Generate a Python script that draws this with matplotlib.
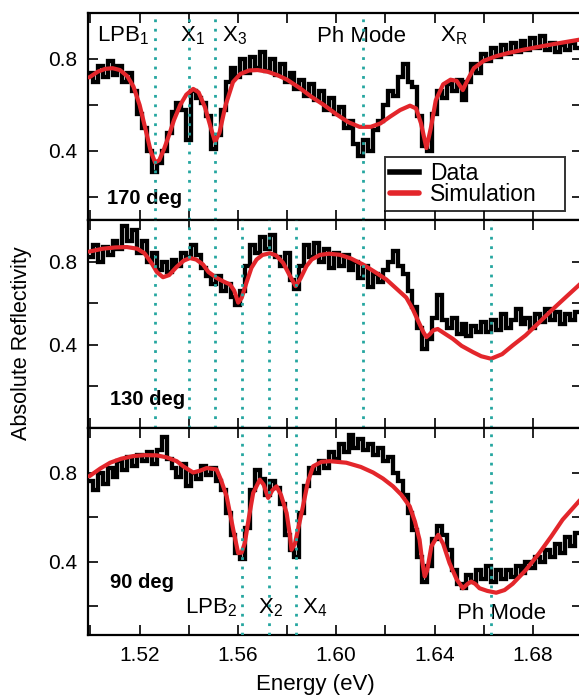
import numpy as np
import matplotlib
matplotlib.use("Agg")
import matplotlib.pyplot as plt
from matplotlib.ticker import MultipleLocator, FixedLocator, FormatStrFormatter

plt.rcParams["font.family"] = ["Liberation Sans", "DejaVu Sans"]
plt.rcParams["mathtext.fontset"] = "custom"
plt.rcParams["mathtext.rm"] = "Liberation Sans"
plt.rcParams["mathtext.it"] = "Liberation Sans:italic"

# Measured reflectivity, sampled every 2 meV from 1.500 eV
E_START, E_STEP, N_PTS = 1.500, 0.002, 100
energy = np.round(E_START + E_STEP * np.arange(N_PTS), 3)

data_170 = [
    0.74, 0.70, 0.77, 0.72, 0.79, 0.73, 0.77, 0.70, 0.74, 0.66,
    0.56, 0.50, 0.40, 0.31, 0.35, 0.40, 0.48, 0.57, 0.61, 0.58,
    0.45, 0.66, 0.63, 0.61, 0.55, 0.41, 0.47, 0.58, 0.70, 0.76,
    0.72, 0.80, 0.74, 0.81, 0.76, 0.83, 0.75, 0.80, 0.73, 0.78,
    0.70, 0.74, 0.67, 0.71, 0.64, 0.69, 0.62, 0.66, 0.58, 0.63,
    0.56, 0.59, 0.50, 0.53, 0.43, 0.38, 0.45, 0.40, 0.49, 0.53,
    0.60, 0.66, 0.64, 0.72, 0.78, 0.70, 0.68, 0.55, 0.42, 0.40,
    0.56, 0.66, 0.63, 0.69, 0.66, 0.71, 0.62, 0.70, 0.78, 0.74,
    0.82, 0.79, 0.85, 0.81, 0.86, 0.82, 0.87, 0.83, 0.88, 0.84,
    0.89, 0.85, 0.90, 0.84, 0.87, 0.83, 0.86, 0.84, 0.87, 0.85,
]
data_130 = [
    0.82, 0.88, 0.80, 0.87, 0.83, 0.90, 0.86, 0.97, 0.90, 0.95,
    0.84, 0.90, 0.80, 0.84, 0.76, 0.80, 0.75, 0.81, 0.78, 0.84,
    0.82, 0.88, 0.83, 0.77, 0.73, 0.69, 0.73, 0.66, 0.69, 0.63,
    0.59, 0.66, 0.78, 0.88, 0.84, 0.92, 0.86, 0.93, 0.82, 0.78,
    0.84, 0.71, 0.67, 0.78, 0.88, 0.82, 0.89, 0.80, 0.86, 0.77,
    0.84, 0.78, 0.83, 0.76, 0.80, 0.72, 0.78, 0.68, 0.74, 0.70,
    0.76, 0.80, 0.85, 0.78, 0.74, 0.66, 0.58, 0.48, 0.38, 0.43,
    0.53, 0.64, 0.52, 0.48, 0.53, 0.45, 0.50, 0.44, 0.49, 0.46,
    0.51, 0.46, 0.52, 0.47, 0.55, 0.48, 0.52, 0.57, 0.50, 0.53,
    0.48, 0.55, 0.51, 0.57, 0.52, 0.56, 0.50, 0.55, 0.52, 0.56,
]
data_90 = [
    0.76, 0.72, 0.80, 0.75, 0.82, 0.78, 0.85, 0.81, 0.87, 0.83,
    0.88, 0.85, 0.89, 0.84, 0.90, 0.96, 0.86, 0.82, 0.78, 0.84,
    0.74, 0.80, 0.77, 0.83, 0.79, 0.82, 0.76, 0.72, 0.62, 0.52,
    0.44, 0.41, 0.55, 0.72, 0.81, 0.77, 0.70, 0.76, 0.73, 0.66,
    0.52, 0.45, 0.42, 0.62, 0.74, 0.82, 0.80, 0.85, 0.82, 0.89,
    0.86, 0.93, 0.89, 0.97, 0.91, 0.95, 0.90, 0.93, 0.88, 0.91,
    0.85, 0.87, 0.80, 0.76, 0.70, 0.62, 0.54, 0.42, 0.31, 0.38,
    0.50, 0.56, 0.52, 0.45, 0.36, 0.30, 0.28, 0.34, 0.31, 0.36,
    0.32, 0.38, 0.31, 0.36, 0.32, 0.36, 0.33, 0.38, 0.35, 0.40,
    0.37, 0.42, 0.40, 0.45, 0.42, 0.48, 0.44, 0.51, 0.47, 0.53,
]

# Transfer-matrix simulation (energy, reflectivity)
sim_170_e = [1.4995, 1.503, 1.506, 1.509, 1.512, 1.515, 1.5175, 1.520, 1.5225, 1.5245,
             1.5263, 1.528, 1.530, 1.532, 1.534, 1.5365, 1.539, 1.5418, 1.544, 1.5466,
             1.549, 1.5507, 1.5525, 1.555, 1.558, 1.561, 1.5645, 1.568, 1.572, 1.576,
             1.580, 1.585, 1.590, 1.595, 1.600, 1.605, 1.6095, 1.614, 1.618, 1.622,
             1.626, 1.630, 1.6325, 1.6345, 1.6367, 1.6385, 1.6405, 1.6435, 1.6465, 1.649,
             1.6515, 1.6535, 1.656, 1.660, 1.665, 1.670, 1.676, 1.682, 1.688, 1.694, 1.6995]
sim_170_r = [0.72, 0.745, 0.757, 0.760, 0.752, 0.725, 0.68, 0.60, 0.49, 0.40,
             0.35, 0.36, 0.41, 0.47, 0.535, 0.60, 0.645, 0.67, 0.655, 0.59,
             0.50, 0.44, 0.48, 0.60, 0.70, 0.735, 0.75, 0.752, 0.745, 0.73,
             0.71, 0.675, 0.635, 0.60, 0.56, 0.525, 0.505, 0.505, 0.52, 0.55,
             0.578, 0.597, 0.585, 0.52, 0.413, 0.50, 0.62, 0.69, 0.71, 0.705,
             0.665, 0.71, 0.76, 0.792, 0.812, 0.826, 0.840, 0.852, 0.864, 0.875, 0.885]

sim_130_e = [1.4995, 1.505, 1.510, 1.5148, 1.519, 1.522, 1.525, 1.527, 1.5295, 1.532,
             1.5351, 1.538, 1.5405, 1.543, 1.5458, 1.548, 1.5513, 1.554, 1.5568, 1.5585,
             1.5601, 1.5615, 1.5635, 1.5655, 1.5676, 1.570, 1.573, 1.5755, 1.5784, 1.581,
             1.5835, 1.5855, 1.5879, 1.590, 1.5933, 1.597, 1.6014, 1.606, 1.6109, 1.6155,
             1.6204, 1.6245, 1.6285, 1.631, 1.6335, 1.6355, 1.6367, 1.638, 1.6395, 1.6413,
             1.644, 1.6474, 1.651, 1.6556, 1.659, 1.663, 1.6675, 1.6718, 1.677, 1.6826,
             1.688, 1.6935, 1.6995]
sim_130_r = [0.848, 0.862, 0.868, 0.870, 0.862, 0.84, 0.79, 0.75, 0.725, 0.735,
             0.775, 0.805, 0.817, 0.81, 0.786, 0.75, 0.722, 0.705, 0.69, 0.66,
             0.603, 0.625, 0.70, 0.77, 0.81, 0.832, 0.84, 0.83, 0.794, 0.735,
             0.682, 0.72, 0.778, 0.81, 0.832, 0.838, 0.833, 0.815, 0.786, 0.752,
             0.714, 0.67, 0.627, 0.575, 0.51, 0.46, 0.437, 0.45, 0.47, 0.476,
             0.455, 0.429, 0.395, 0.365, 0.345, 0.333, 0.355, 0.397, 0.445, 0.508,
             0.57, 0.63, 0.695]

sim_90_e = [1.4995, 1.504, 1.508, 1.5125, 1.5175, 1.522, 1.527, 1.531, 1.5351, 1.538,
            1.5418, 1.5445, 1.5473, 1.5513, 1.553, 1.5554, 1.5581, 1.5601, 1.5615, 1.5628,
            1.5645, 1.5662, 1.5689, 1.5705, 1.5723, 1.574, 1.5757, 1.5775, 1.5798, 1.581,
            1.5818, 1.5832, 1.5865, 1.5885, 1.5906, 1.594, 1.5974, 1.6041, 1.610, 1.615,
            1.619, 1.6231, 1.6265, 1.6299, 1.632, 1.6339, 1.635, 1.636, 1.637, 1.6387,
            1.6415, 1.6435, 1.6461, 1.649, 1.6515, 1.6535, 1.6549, 1.6565, 1.6583, 1.6615,
            1.6651, 1.6685, 1.6718, 1.677, 1.6826, 1.6875, 1.6921, 1.6995]
sim_90_r = [0.783, 0.818, 0.844, 0.862, 0.874, 0.878, 0.877, 0.868, 0.851, 0.826,
            0.80, 0.808, 0.82, 0.814, 0.77, 0.693, 0.543, 0.438, 0.44, 0.483,
            0.60, 0.708, 0.768, 0.745, 0.686, 0.72, 0.738, 0.70, 0.618, 0.53,
            0.453, 0.48, 0.65, 0.76, 0.828, 0.848, 0.851, 0.844, 0.825, 0.80,
            0.773, 0.738, 0.70, 0.648, 0.58, 0.498, 0.40, 0.333, 0.36, 0.468,
            0.52, 0.48, 0.393, 0.32, 0.28, 0.30, 0.31, 0.30, 0.28, 0.268,
            0.26, 0.272, 0.30, 0.36, 0.438, 0.513, 0.588, 0.68]

# Mode positions (eV)
mode_lines_170 = [1.5263, 1.5401, 1.5507, 1.6109]
mode_lines_130 = [1.5263, 1.5401, 1.5507, 1.5616, 1.5726, 1.5836, 1.6109, 1.6631]
mode_lines_90 = [1.5616, 1.5726, 1.5836, 1.6631]

angle_labels = ["170 deg", "130 deg", "90 deg"]
y_limits = [(0.10, 1.0), (0.0, 1.0), (0.07, 1.0)]

DATA_COLOR = "black"
SIM_COLOR = "#e3262b"
MODE_COLOR = "#25a6a0"

W, H = 579, 698
fig = plt.figure(figsize=(W / 100, H / 100), dpi=100)

left_px, right_px = 88, 582
panel_edges = [(13, 220), (220, 428), (428, 635)]
axes = []
for top, bot in panel_edges:
    ax = fig.add_axes([left_px / W, 1 - bot / H, (right_px - left_px) / W, (bot - top) / H])
    axes.append(ax)

panels = [
    (data_170, sim_170_e, sim_170_r, mode_lines_170),
    (data_130, sim_130_e, sim_130_r, mode_lines_130),
    (data_90, sim_90_e, sim_90_r, mode_lines_90),
]

for i, (ax, (dat, se, sr, modes)) in enumerate(zip(axes, panels)):
    ax.plot(energy, dat, color=DATA_COLOR, lw=3.1, drawstyle="steps-mid",
            solid_joinstyle="miter", label="Data", zorder=2)
    ax.plot(se, sr, color=SIM_COLOR, lw=3.0, label="Simulation", zorder=3,
            solid_capstyle="round", solid_joinstyle="round")
    for m in modes:
        ax.axvline(m, color=MODE_COLOR, lw=2.0, ls=(0, (1, 2.4)), zorder=4)
    ax.set_xlim(1.499, 1.700)
    ax.set_ylim(*y_limits[i])
    ax.xaxis.set_major_locator(MultipleLocator(0.04))
    ax.xaxis.set_minor_locator(MultipleLocator(0.02))
    ax.yaxis.set_major_locator(FixedLocator([0.4, 0.8]))
    ax.yaxis.set_minor_locator(FixedLocator([0.2, 0.6, 1.0]))
    ax.yaxis.set_major_formatter(FormatStrFormatter("%.1f"))
    ax.tick_params(which="both", direction="in", top=True, right=True,
                   length=7, width=1.2, labelsize=15, pad=8)
    for sp in ax.spines.values():
        sp.set_linewidth(1.6)
    if i < 2:
        ax.tick_params(labelbottom=False)
    else:
        ax.xaxis.set_major_formatter(FormatStrFormatter("%.2f"))

ax_top, ax_mid, ax_bot = axes

label_kw = dict(fontsize=16, va="baseline", ha="left")
ax_top.text(1.5027, 0.875, "LPB$_1$", **label_kw)
ax_top.text(1.5365, 0.875, "X$_1$", **label_kw)
ax_top.text(1.5535, 0.875, "X$_3$", **label_kw)
ax_top.text(1.5922, 0.875, "Ph Mode", **label_kw)
ax_top.text(1.6422, 0.875, r"X$_\mathrm{R}$", **label_kw)

ax_bot.text(1.5385, 0.166, "LPB$_2$", **label_kw)
ax_bot.text(1.5682, 0.166, "X$_2$", **label_kw)
ax_bot.text(1.5860, 0.166, "X$_4$", **label_kw)
ax_bot.text(1.6490, 0.143, "Ph Mode", **label_kw)

bold_kw = dict(fontsize=14.5, fontweight="bold", va="baseline", ha="left")
ax_top.text(1.5068, 0.17, angle_labels[0], **bold_kw)
ax_mid.text(1.5080, 0.111, angle_labels[1], **bold_kw)
ax_bot.text(1.5080, 0.283, angle_labels[2], **bold_kw)

# Legend box spans a fixed width in figure pixels
leg_x0, leg_x1, leg_top = 385, 565, 157
leg = ax_top.legend(loc="upper left",
                    bbox_to_anchor=(leg_x0 / W, 1 - leg_top / H - 0.001,
                                    (leg_x1 - leg_x0) / W, 0.001),
                    bbox_transform=fig.transFigure, mode="expand",
                    fontsize=16.5, frameon=True, fancybox=False,
                    handlelength=1.3, handletextpad=0.45,
                    labelspacing=-0.05, borderpad=0.2, borderaxespad=0.0)
leg.get_frame().set_edgecolor("black")
leg.get_frame().set_linewidth(1.4)
for line in leg.get_lines():
    line.set_linewidth(4.0)
    line.set_drawstyle("default")

fig.text(22 / W, 1 - 343 / H, "Absolute Reflectivity", rotation=90,
         ha="center", va="center", fontsize=15.5)
fig.text(315 / W, 1 - 690 / H, "Energy (eV)", ha="center", va="baseline",
         fontsize=16)

fig.savefig("out.png", dpi=100)
